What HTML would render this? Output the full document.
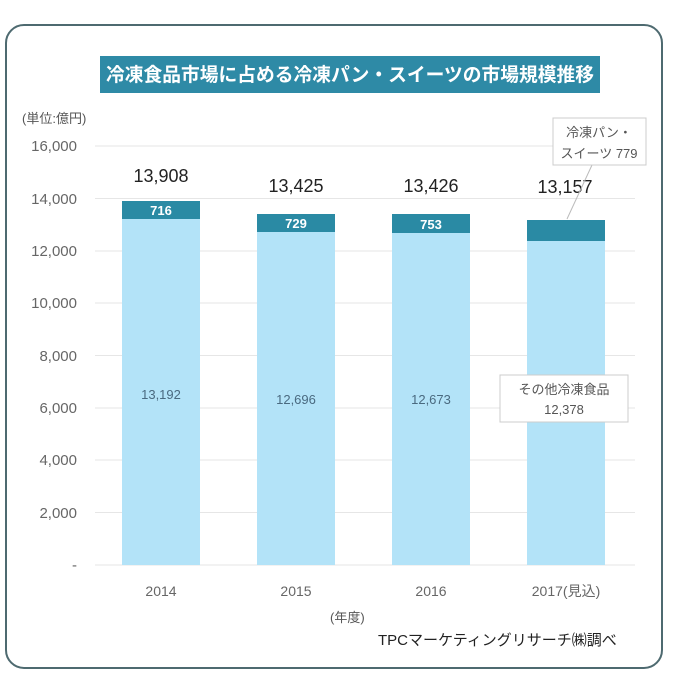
<!DOCTYPE html>
<html><head><meta charset="utf-8"><style>
body{margin:0;background:#fff;}
</style></head><body>
<svg width="680" height="678" xmlns="http://www.w3.org/2000/svg" font-family="Liberation Sans, Noto Sans CJK JP, sans-serif">
<rect x="0" y="0" width="680" height="678" fill="#fff"/>
<rect x="6" y="25" width="656" height="643" rx="18" fill="#fff" stroke="#4e6a70" stroke-width="2"/>
<rect x="100" y="56" width="500" height="37" fill="#2e8aa6"/>
<text x="106" y="81" fill="#fff" font-size="19" font-weight="bold" textLength="488" lengthAdjust="spacingAndGlyphs">冷凍食品市場に占める冷凍パン・スイーツの市場規模推移</text>
<text x="22" y="123" fill="#555" font-size="13">(単位:億円)</text>
<g stroke="#e6e6e6" stroke-width="1">
<line x1="95" x2="635" y1="146" y2="146"/><line x1="95" x2="635" y1="198.5" y2="198.5"/>
<line x1="95" x2="635" y1="251" y2="251"/><line x1="95" x2="635" y1="303" y2="303"/>
<line x1="95" x2="635" y1="355.5" y2="355.5"/><line x1="95" x2="635" y1="408" y2="408"/>
<line x1="95" x2="635" y1="460" y2="460"/><line x1="95" x2="635" y1="512.5" y2="512.5"/>
<line x1="95" x2="635" y1="565" y2="565"/>
</g>
<g fill="#666" font-size="15" text-anchor="end">
<text x="77" y="151">16,000</text><text x="77" y="204">14,000</text><text x="77" y="256">12,000</text>
<text x="77" y="308">10,000</text><text x="77" y="361">8,000</text><text x="77" y="413">6,000</text>
<text x="77" y="465">4,000</text><text x="77" y="518">2,000</text><text x="77" y="570">-</text>
</g>
<g fill="#b3e3f8">
<rect x="122" y="219" width="78" height="346"/>
<rect x="257" y="232" width="78" height="333"/>
<rect x="392" y="233" width="78" height="332"/>
<rect x="527" y="241" width="78" height="324"/>
</g>
<g fill="#2a8aa4">
<rect x="122" y="201" width="78" height="18"/>
<rect x="257" y="214" width="78" height="18"/>
<rect x="392" y="214" width="78" height="19"/>
<rect x="527" y="220" width="78" height="21"/>
</g>
<g fill="#fff" font-size="13" text-anchor="middle" font-weight="bold">
<text x="161" y="215">716</text><text x="296" y="228">729</text><text x="431" y="229">753</text>
</g>
<g fill="#222" font-size="18" text-anchor="middle">
<text x="161" y="182">13,908</text><text x="296" y="192">13,425</text><text x="431" y="192">13,426</text><text x="565" y="193">13,157</text>
</g>
<g fill="#4a6a80" font-size="13" text-anchor="middle">
<text x="161" y="399">13,192</text><text x="296" y="404">12,696</text><text x="431" y="404">12,673</text>
</g>
<line x1="567" y1="219" x2="592" y2="165" stroke="#bbb"/>
<rect x="553" y="118" width="93" height="47" fill="#fff" stroke="#ccc"/>
<text x="599" y="137" fill="#555" font-size="13" text-anchor="middle">冷凍パン・</text>
<text x="599" y="158" fill="#555" font-size="13" text-anchor="middle">スイーツ 779</text>
<rect x="500" y="375" width="128" height="47" fill="#fff" stroke="#ccc"/>
<text x="564" y="394" fill="#555" font-size="13" text-anchor="middle">その他冷凍食品</text>
<text x="564" y="414" fill="#555" font-size="13" text-anchor="middle">12,378</text>
<g fill="#666" font-size="14" text-anchor="middle">
<text x="161" y="596">2014</text><text x="296" y="596">2015</text><text x="431" y="596">2016</text><text x="566" y="596">2017(見込)</text>
</g>
<text x="330" y="622" fill="#555" font-size="13">(年度)</text>
<text x="378" y="645" fill="#222" font-size="15">TPCマーケティングリサーチ㈱調べ</text>
</svg>
</body></html>
